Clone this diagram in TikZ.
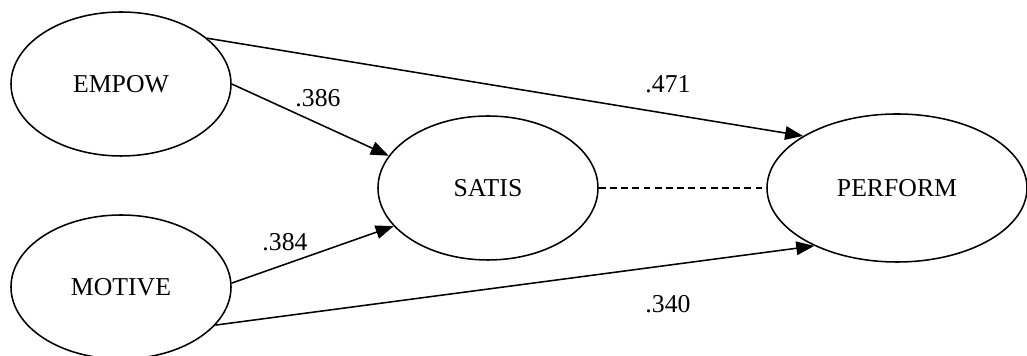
\documentclass[tikz,border=0pt]{standalone}
\usepackage{fontspec}
\setmainfont{Liberation Serif}
\usetikzlibrary{shapes.geometric,arrows.meta}

\tikzset{
  latent/.style={draw, ellipse, line width=1.1pt, inner sep=0pt,
    minimum width=5.5cm, minimum height=3.6cm},
  path/.style={line width=1.1pt, -{Triangle[length=0.45cm,width=0.34cm]}},
  coef/.style={inner sep=0pt}
}

\begin{document}
\begin{tikzpicture}[font=\fontsize{18.3}{22}\selectfont]
\useasboundingbox (0,0) rectangle (25.675,8.9);
% Latent variables
\node[latent] (empow) at (3.025,6.8) {EMPOW};
\node[latent] (motive) at (3.025,1.725) {MOTIVE};
\node[latent] (satis) at (12.2,4.2) {SATIS};
\node[latent, minimum width=6.5cm, minimum height=3.7cm] (perform) at (22.425,4.2) {PERFORM};
% Paths
\draw[path] (empow.0) -- (satis.162);
\draw[path] (empow.28) -- (perform.151);
\draw[path] (motive.2) -- (satis.202);
\draw[path] (motive.-22) -- (perform.215);
% Correlation
\draw[line width=1.1pt, dash pattern=on 0.17cm off 0.11cm] (satis.east) -- (perform.west);
% Coefficients
\node[coef] (c386) at (7.95,6.45) {.386};
\node[coef] (c384) at (7.125,2.84) {.384};
\node[coef] (c471) at (16.7,6.8) {.471};
\node[coef] (c340) at (16.7,1.3) {.340};
\end{tikzpicture}
\end{document}
